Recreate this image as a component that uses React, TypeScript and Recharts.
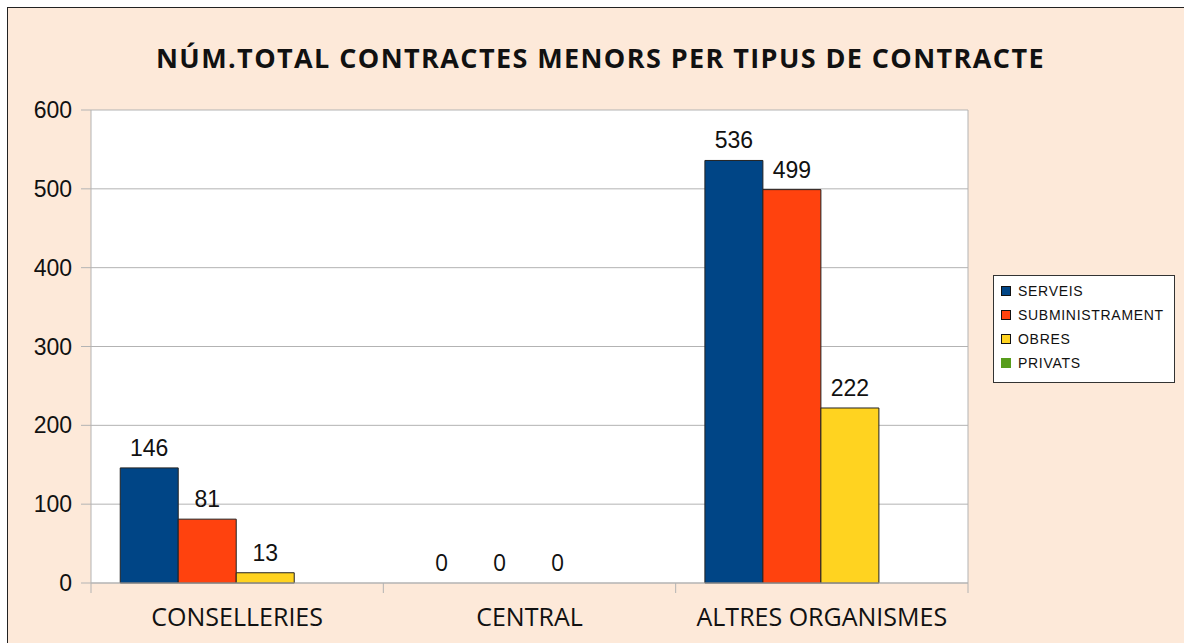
import React from 'react';
import { BarChart, Bar, XAxis, YAxis, CartesianGrid, Legend, Rectangle } from 'recharts';

const CATEGORIES = ['CONSELLERIES', 'CENTRAL', 'ALTRES ORGANISMES'];
const SERVEIS = [146, 0, 536];
const SUBMINISTRAMENT = [81, 0, 499];
const OBRES = [13, 0, 222];
const PRIVATS: (number | null)[] = [null, null, null];
const Y_TICKS = [0, 100, 200, 300, 400, 500, 600];

const SERIES = [
  { key: 'SERVEIS', color: '#004586', label: true },
  { key: 'SUBMINISTRAMENT', color: '#ff420e', label: true },
  { key: 'OBRES', color: '#ffd320', label: true },
  { key: 'PRIVATS', color: '#579d1c', label: false },
];

const data = CATEGORIES.map((name, i) => ({
  name,
  SERVEIS: SERVEIS[i],
  SUBMINISTRAMENT: SUBMINISTRAMENT[i],
  OBRES: OBRES[i],
  PRIVATS: PRIVATS[i],
}));

const AXIS_GRAY = '#b3b3b3';
const NUM_FONT = '"Liberation Sans", Arial, sans-serif';
const CAT_FONT = '"Open Sans", "Noto Sans", sans-serif';

// category label + boundary tick marks (ticks sit between the bands, not under them)
const CategoryTick = (props: any) => {
  const { x, y, payload, index } = props;
  const half = payload?.offset ?? 0;
  const last = index === CATEGORIES.length - 1;
  return (
    <g>
      <line x1={x - half} x2={x - half} y1={y} y2={y + 10} stroke={AXIS_GRAY} />
      {last && <line x1={x + half} x2={x + half} y1={y} y2={y + 10} stroke={AXIS_GRAY} />}
      <text x={x} y={y + 25} dy="0.71em" textAnchor="middle" fill="#111" fontSize={25} fontFamily={CAT_FONT}>
        {payload.value}
      </text>
    </g>
  );
};

// zero values get a 1px placeholder bar (so the label exists) that is not painted
const makeShape = (key: string) => (props: any) => {
  if (props.payload?.[key] === 0) return <g />;
  return <Rectangle {...props} />;
};

const renderValueLabel = (props: any) => {
  const vb = props.viewBox || {};
  const x = props.x ?? vb.x;
  const y = props.y ?? vb.y;
  const width = props.width ?? vb.width;
  const height = props.height ?? vb.height ?? 0;
  const value = props.value;
  if (value === null || value === undefined) return null;
  const top = value === 0 ? y + height : y;
  return (
    <text
      key={`${x}-${y}`}
      x={x + width / 2}
      y={top - 12}
      textAnchor="middle"
      fill="#111"
      fontSize={23}
      fontFamily={value === 0 ? CAT_FONT : NUM_FONT}
    >
      {value}
    </text>
  );
};

const LegendBox = ({ payload }: any) => {
  const items = SERIES.map((s) => (payload || []).find((p: any) => p.value === s.key) || { value: s.key, color: s.color });
  return (
    <div
      style={{
        width: 180,
        height: 103,
        background: '#fff',
        border: '1px solid #333',
        boxSizing: 'content-box',
        paddingTop: 3,
      }}
    >
      {items.map((p: any) => (
        <div key={p.value} style={{ display: 'flex', alignItems: 'center', height: 24 }}>
          <span
            style={{
              display: 'inline-block',
              width: 8,
              height: 8,
              marginLeft: 7,
              marginRight: 7,
              background: p.color,
              border: p.value === 'PRIVATS' ? '1px solid ' + p.color : '1px solid #111',
            }}
          />
          <span style={{ fontFamily: NUM_FONT, fontSize: 14, letterSpacing: 0.7, color: '#111' }}>{p.value}</span>
        </div>
      ))}
    </div>
  );
};

export default function App() {
  return (
    <div
      style={{
        position: 'absolute',
        left: 7,
        top: 7,
        width: 1180,
        height: 640,
        background: '#fde9d9',
        border: '1px solid #222',
        overflow: 'hidden',
      }}
    >
      <div
        style={{
          position: 'absolute',
          left: 0,
          top: 31,
          width: 1185,
          textAlign: 'center',
          fontFamily: CAT_FONT,
          fontWeight: 700,
          fontSize: 27,
          letterSpacing: 1.4,
          color: '#111',
        }}
      >
        NÚM.TOTAL CONTRACTES MENORS PER TIPUS DE CONTRACTE
      </div>
      <BarChart
        width={1176}
        height={640}
        data={data}
        margin={{ top: 102, right: 216, left: 0, bottom: 15 }}
        barCategoryGap="10%"
        barGap={0}
        style={{ position: 'absolute', left: 0, top: 0 }}
      >
        <CartesianGrid
          fill="#ffffff"
          stroke={AXIS_GRAY}
          verticalCoordinatesGenerator={({ offset }: any) => [offset.left + offset.width]}
        />
        <XAxis
          dataKey="name"
          height={50}
          tickLine={false}
          tickSize={0}
          tickMargin={0}
          axisLine={{ stroke: AXIS_GRAY }}
          tick={<CategoryTick />}
          interval={0}
        />
        <YAxis
          width={83}
          domain={[0, 600]}
          ticks={Y_TICKS}
          tickSize={10}
          tickMargin={9}
          axisLine={{ stroke: AXIS_GRAY }}
          tickLine={{ stroke: AXIS_GRAY }}
          tick={{ fill: '#111', fontSize: 23, fontFamily: NUM_FONT }}
        />
        <Legend
          layout="vertical"
          align="center"
          verticalAlign="middle"
          content={<LegendBox />}
          wrapperStyle={{ position: 'absolute', left: 985, top: 267, width: 'auto' }}
        />
        {SERIES.map((s) => (
          <Bar
            key={s.key}
            dataKey={s.key}
            fill={s.color}
            stroke="#222"
            strokeWidth={1}
            isAnimationActive={false}
            minPointSize={s.label ? 1 : 0}
            shape={makeShape(s.key)}
            label={s.label ? renderValueLabel : false}
          />
        ))}
      </BarChart>
    </div>
  );
}
